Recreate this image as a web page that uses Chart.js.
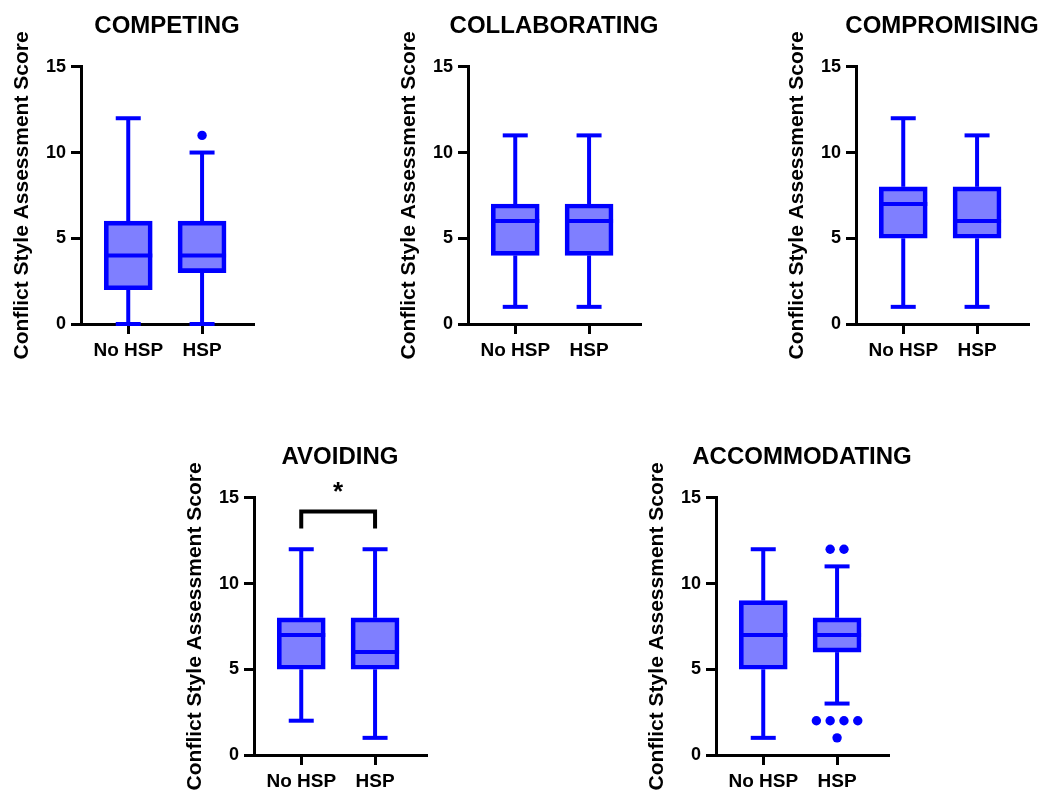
<!DOCTYPE html>
<html>
<head>
<meta charset="utf-8">
<script src="https://cdn.jsdelivr.net/npm/chart.js@4.4.1/dist/chart.umd.min.js"></script>
<style>
html,body{margin:0;padding:0;background:#fff;overflow:hidden;width:1041px;height:790px;position:relative;}
canvas{position:absolute;}
</style>
</head>
<body>
<canvas id="c0" width="334" height="359" style="left:0px;top:0px;width:334px;height:359px"></canvas>
<canvas id="c1" width="334" height="359" style="left:387px;top:0px;width:334px;height:359px"></canvas>
<canvas id="c2" width="334" height="359" style="left:775px;top:0px;width:334px;height:359px"></canvas>
<canvas id="c3" width="334" height="359" style="left:173px;top:431px;width:334px;height:359px"></canvas>
<canvas id="c4" width="334" height="359" style="left:635px;top:431px;width:334px;height:359px"></canvas>
<script>
// ---------------- data ----------------
const categories = ['No HSP', 'HSP'];
const panelTitles = ['COMPETING', 'COLLABORATING', 'COMPROMISING', 'AVOIDING', 'ACCOMMODATING'];
const yAxisTitle = 'Conflict Style Assessment Score';
const yTicks = [0, 5, 10, 15];
// per panel: [No HSP, HSP]
const mins    = [[0, 0], [1, 1], [1, 1], [2, 1], [1, 3]];
const q1s     = [[2, 3], [4, 4], [5, 5], [5, 5], [5, 6]];
const medians = [[4, 4], [6, 6], [7, 6], [7, 6], [7, 7]];
const q3s     = [[6, 6], [7, 7], [8, 8], [8, 8], [9, 8]];
const maxs    = [[12, 10], [11, 11], [12, 11], [12, 12], [12, 11]];
const outliers = [
  [[], [11]],
  [[], []],
  [[], []],
  [[], []],
  [[], [12, 12, 2, 2, 2, 2, 1]]
];
// significance annotations
const sigPanels = [3];
const sigPairs = [[0, 1]];
const sigLabels = ['*'];
const sigLevels = [14.2];

// ---------------- style ----------------
const BLUE = '#0000FF';
const FILL = 'rgba(0,0,255,0.5)';
const BOX_W = 48, CAP_W = 25, DOT_GAP = 13.8, DOT_R = 4.7;
Chart.defaults.font.family = '"Liberation Sans", Arial, sans-serif';
Chart.defaults.color = '#000';

const boxExtras = {
  id: 'boxExtras',
  afterDatasetsDraw(chart, args, opts) {
    const k = opts.panel;
    const ctx = chart.ctx, xs = chart.scales.x, ys = chart.scales.y;
    ctx.save();
    ctx.strokeStyle = BLUE; ctx.fillStyle = BLUE; ctx.lineWidth = 4; ctx.lineCap = 'butt';
    const line = (x1, y1, x2, y2) => { ctx.beginPath(); ctx.moveTo(x1, y1); ctx.lineTo(x2, y2); ctx.stroke(); };
    categories.forEach((c, i) => {
      const cx = xs.getPixelForValue(i);
      const yMin = ys.getPixelForValue(mins[k][i]);
      const yMax = ys.getPixelForValue(maxs[k][i]);
      const yQ1 = ys.getPixelForValue(q1s[k][i]);
      const yQ3 = ys.getPixelForValue(q3s[k][i]);
      const yMed = ys.getPixelForValue(medians[k][i]);
      line(cx, yQ3, cx, yMax);
      line(cx, yQ1, cx, yMin);
      line(cx - CAP_W / 2, yMax, cx + CAP_W / 2, yMax);
      line(cx - CAP_W / 2, yMin, cx + CAP_W / 2, yMin);
      line(cx - BOX_W / 2, yMed, cx + BOX_W / 2, yMed);
      const groups = {};
      outliers[k][i].forEach(v => { (groups[v] = groups[v] || []).push(v); });
      Object.keys(groups).forEach(v => {
        const n = groups[v].length;
        for (let j = 0; j < n; j++) {
          ctx.beginPath();
          ctx.arc(cx + (j - (n - 1) / 2) * DOT_GAP, ys.getPixelForValue(+v), DOT_R, 0, Math.PI * 2);
          ctx.fill();
        }
      });
    });
    sigPanels.forEach((p, s) => {
      if (p !== k) return;
      const x0 = xs.getPixelForValue(sigPairs[s][0]);
      const x1 = xs.getPixelForValue(sigPairs[s][1]);
      const yTop = ys.getPixelForValue(sigLevels[s]);
      const yEnd = yTop + 17;
      ctx.strokeStyle = '#000'; ctx.fillStyle = '#000'; ctx.lineJoin = 'miter';
      ctx.beginPath(); ctx.moveTo(x0, yEnd); ctx.lineTo(x0, yTop); ctx.lineTo(x1, yTop); ctx.lineTo(x1, yEnd); ctx.stroke();
      ctx.font = 'bold 26px "Liberation Sans", Arial, sans-serif';
      ctx.textAlign = 'center'; ctx.textBaseline = 'alphabetic';
      ctx.fillText(sigLabels[s], (x0 + x1) / 2, yTop - 12);
    });
    ctx.restore();
  }
};

panelTitles.forEach((title, k) => {
  new Chart(document.getElementById('c' + k), {
    type: 'bar',
    data: {
      datasets: [{
        data: categories.map((c, i) => ({ x: i, y: [q1s[k][i], q3s[k][i]] })),
        backgroundColor: FILL,
        borderColor: BLUE,
        borderWidth: 4,
        borderSkipped: false,
        barThickness: BOX_W,
        yAxisID: 'y'
      }]
    },
    options: {
      responsive: false,
      animation: false,
      devicePixelRatio: 1,
      layout: { padding: 0 },
      plugins: {
        legend: { display: false },
        tooltip: { enabled: false },
        title: {
          display: true, text: title, color: '#000',
          font: { size: 24, weight: 'bold' },
          padding: { top: 12, bottom: 26 }
        },
        boxExtras: { panel: k }
      },
      scales: {
        x: {
          type: 'linear', min: -0.64, max: 1.69, offset: false,
          afterBuildTicks: (s) => { s.ticks = categories.map((c, i) => ({ value: i })); },
          afterFit: (s) => { s.height = 35; },
          ticks: {
            callback: (v) => categories[Math.round(v)],
            font: { size: 19, weight: 'bold' }, color: '#000', padding: 5,
            maxRotation: 0, autoSkip: false
          },
          grid: { display: true, drawOnChartArea: false, drawTicks: true, tickLength: 10, color: '#000', lineWidth: 3, offset: false },
          border: { display: true, color: '#000', width: 3 }
        },
        y: {
          position: 'left',
          min: yTicks[0], max: yTicks[yTicks.length - 1],
          afterBuildTicks: (s) => { s.ticks = yTicks.map(v => ({ value: v })); },
          afterFit: (s) => { s.width = 81; },
          ticks: { font: { size: 18, weight: 'bold' }, color: '#000', padding: 5 },
          grid: { display: true, drawOnChartArea: false, drawTicks: true, tickLength: 10, color: '#000', lineWidth: 3 },
          border: { display: true, color: '#000', width: 3 },
          title: {
            display: true, text: yAxisTitle, color: '#000',
            font: { size: 21, weight: 'bold' }, padding: { top: 10, bottom: 0 }
          }
        },
        yRight: {
          position: 'right',
          min: yTicks[0], max: yTicks[yTicks.length - 1],
          afterFit: (s) => { s.width = 81; },
          ticks: { display: false },
          grid: { display: false },
          border: { display: false }
        }
      }
    },
    plugins: [boxExtras]
  });
});
</script>
</body>
</html>
